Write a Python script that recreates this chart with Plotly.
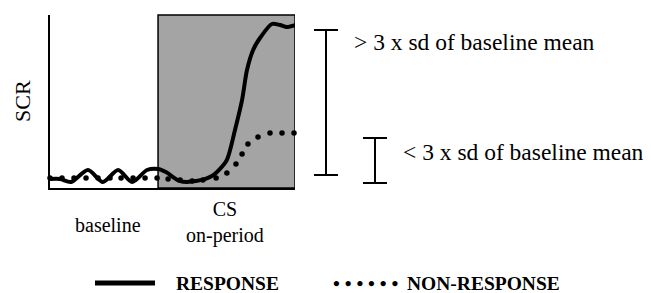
import plotly.graph_objects as go

# ---- data (time in arbitrary units 0-100, SCR normalised 0-1) ----
resp_time = [0, 4.1, 8.6, 15.5, 21.6, 27.8, 33.5, 39.6, 44.1, 47.3, 53.1, 59.6, 66.1,
             69.4, 72.2, 75.5, 78.4, 80.4, 82.9, 85.7, 90.6, 93.9, 96.7, 100]
resp_scr = [0.052, 0.052, 0.035, 0.104, 0.035, 0.104, 0.035, 0.104, 0.11, 0.092, 0.040,
            0.040, 0.069, 0.110, 0.162, 0.335, 0.509, 0.682, 0.798, 0.867, 0.948, 0.942,
            0.931, 0.942]

nonresp_time = [0, 4.9, 9.8, 14.7, 19.6, 24.5, 29.0, 33.9, 38.8, 43.7, 48.2, 53.1, 58.0,
                62.4, 67.8, 72.2, 75.9, 78.4, 80.8, 84.9, 89.8, 94.7, 99.6]
nonresp_scr = [0.058, 0.058, 0.058, 0.058, 0.058, 0.058, 0.058, 0.058, 0.058, 0.058, 0.052,
               0.046, 0.040, 0.046, 0.058, 0.087, 0.139, 0.197, 0.254, 0.295, 0.318, 0.318,
               0.318]

cs_onset = 44.1
cs_end = 100

W, H = 651, 293
L, R, T, B = 50, 356, 15, 105
PW, PH = W - L - R, H - T - B


def px(x):
    return (x - L) / PW


def py(y):
    return (T + PH - y) / PH


FONT = "Liberation Serif, Times New Roman, serif"

fig = go.Figure()
fig.add_trace(go.Scatter(x=resp_time, y=resp_scr, mode="lines", name="RESPONSE",
                         line=dict(color="black", width=4, shape="spline", smoothing=0.8),
                         cliponaxis=False, showlegend=False))
fig.add_trace(go.Scatter(x=nonresp_time, y=nonresp_scr, mode="markers", name="NON-RESPONSE",
                         marker=dict(color="black", size=5.5),
                         cliponaxis=False, showlegend=False))

shapes = []
# CS on-period box
shapes.append(dict(type="rect", xref="x", yref="paper", x0=cs_onset, x1=cs_end, y0=0, y1=1,
                   fillcolor="#a4a4a4", line=dict(color="black", width=1.5), layer="below"))


def bracket(x, y0, y1, half=12):
    out = [dict(type="line", xref="paper", yref="paper", x0=px(x), x1=px(x), y0=py(y0), y1=py(y1))]
    for y in (y0, y1):
        out.append(dict(type="line", xref="paper", yref="paper",
                        x0=px(x - half), x1=px(x + half), y0=py(y), y1=py(y)))
    for s in out:
        s["line"] = dict(color="black", width=2)
    return out


shapes += bracket(326, 30, 175)
shapes += bracket(375, 138, 183)
# legend line sample
shapes.append(dict(type="line", xref="paper", yref="paper", x0=px(95), x1=px(155),
                   y0=py(283), y1=py(283), line=dict(color="black", width=5)))

ann = []


def text(t, x, y, size, xanchor="left", bold=False, angle=0):
    ann.append(dict(text=f"<b>{t}</b>" if bold else t, x=px(x), y=py(y), xref="paper",
                    yref="paper", xanchor=xanchor, yanchor="middle", showarrow=False,
                    textangle=angle, font=dict(family=FONT, size=size, color="black")))


text("SCR", 22, 101, 22, xanchor="center", angle=-90)
text("&gt; 3 x sd of baseline mean", 352, 42, 23.5)
text("&lt; 3 x sd of baseline mean", 401, 152, 23.5)
text("baseline", 108, 225, 20, xanchor="center")
text("CS<br>on-period", 225, 222, 20, xanchor="center")
text("RESPONSE", 174, 283, 19.5, bold=True)
text("• • • • • •", 331, 283, 19.5, bold=True)
text("NON-RESPONSE", 405, 283, 19.5, bold=True)

fig.update_layout(
    width=W, height=H, margin=dict(l=L, r=R, t=T, b=B),
    paper_bgcolor="white", plot_bgcolor="white",
    shapes=shapes, annotations=ann, showlegend=False,
    xaxis=dict(range=[0, 100], showgrid=False, zeroline=False, showticklabels=False,
               ticks="", showline=True, linecolor="black", linewidth=2),
    yaxis=dict(range=[0, 1], showgrid=False, zeroline=False, showticklabels=False,
               ticks="", showline=True, linecolor="black", linewidth=2),
)

fig.write_html("out.html", config={"displayModeBar": False},
               post_script="document.body.style.margin='0';document.body.style.overflow='hidden';")
